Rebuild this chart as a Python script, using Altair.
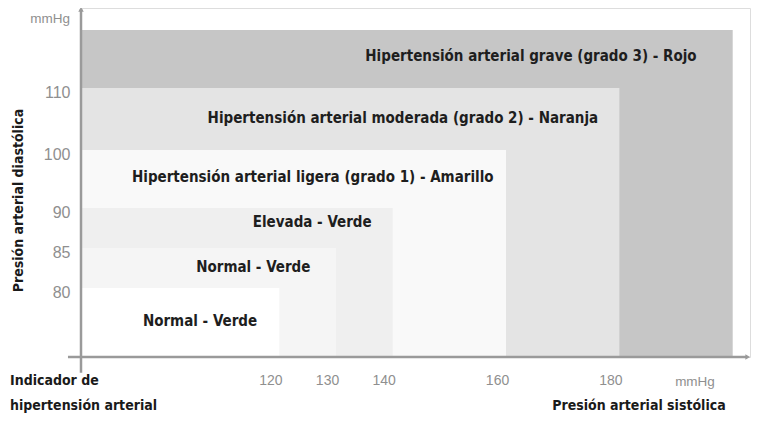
import altair as alt
import pandas as pd

# Nested zones: systolic upper limit, diastolic upper limit, label, fill
sys_limits = [200, 180, 160, 140, 130, 120]
dia_limits = [120, 110, 100, 90, 85, 80]
zone_labels = [
    "Hipertensión arterial grave (grado 3) - Rojo",
    "Hipertensión arterial moderada (grado 2) - Naranja",
    "Hipertensión arterial ligera (grado 1) - Amarillo",
    "Elevada - Verde",
    "Normal - Verde",
    "Normal - Verde",
]
zone_fill = ["#c6c6c6", "#e4e4e4", "#f9f9f9", "#efefef", "#f5f5f5", "#ffffff"]
label_sys = [164.4, 141.8, 125.9, 125.8, 115.4, 106.0]
label_dia = [115.5, 105.2, 95.3, 88.3, 82.6, 75.2]

x_ticks = [120, 130, 140, 160, 180]
y_ticks = [80, 85, 90, 100, 110]

W, H = 669, 349
X_MIN = 85
X_MAX = X_MIN + W / 5.667
Y_MIN = 70

zones = pd.DataFrame({
    "x0": [X_MIN] * len(sys_limits), "x1": sys_limits,
    "y0": [Y_MIN] * len(dia_limits), "y1": dia_limits,
    "fill": zone_fill, "order": list(range(len(sys_limits))),
})
labels = pd.DataFrame({"x": label_sys, "y": label_dia, "text": zone_labels})

xscale = alt.Scale(domain=[X_MIN, X_MAX], range=[0, W], nice=False, zero=False)
yscale = alt.Scale(domain=[70, 80, 85, 90, 100, 110, 120, 125],
                   range=[349, 280, 240, 200, 142, 80, 22, 0], nice=False, zero=False)

FONT_B = "'DejaVu Sans Condensed', 'DejaVu Sans', sans-serif"
TICK_FONT = "Liberation Sans"

rects = alt.Chart(zones).mark_rect().encode(
    x=alt.X("x0:Q", scale=xscale, axis=alt.Axis(
        values=x_ticks, domain=False, ticks=False, grid=False, labelFont=TICK_FONT,
        labelFontSize=14, labelColor="#8f8f8f", labelOffset=-9, labelPadding=16,
        title=None)),
    x2="x1:Q",
    y=alt.Y("y0:Q", scale=yscale, axis=alt.Axis(
        values=y_ticks, domain=False, ticks=False, grid=False, labelFont=TICK_FONT,
        labelFontSize=16, labelColor="#8f8f8f", labelOffset=4, labelPadding=11,
        title="Presión arterial diastólica", titleFont=FONT_B, titleFontSize=14,
        titleColor="#1a1a1a", titleFontWeight="bold", titleX=-56, titleY=192)),
    y2="y1:Q",
    color=alt.Color("fill:N", scale=None),
    order="order:Q",
)

texts = alt.Chart(labels).mark_text(
    font=FONT_B, fontSize=15, fontWeight="bold", color="#1e1e1e"
).encode(x=alt.X("x:Q", scale=xscale), y=alt.Y("y:Q", scale=yscale), text="text:N")

axis_color = "#9a9a9a"
one = pd.DataFrame({"a": [0]})
yaxis_line = alt.Chart(one).mark_rule(
    color=axis_color, strokeWidth=2.5, clip=False
).encode(x=alt.X("xv:Q", scale=xscale),
         y=alt.Y("y0:Q", scale=yscale), y2="y1:Q").transform_calculate(
    xv=str(X_MIN), y0="67.7", y1="124.7")
xaxis_line = alt.Chart(one).mark_rule(
    color=axis_color, strokeWidth=2.5, clip=False
).encode(x=alt.X("x0:Q", scale=xscale), x2="x1:Q",
         y=alt.Y("yv:Q", scale=yscale)).transform_calculate(
    x0="82.7", x1=str(X_MAX - 0.5), yv=str(Y_MIN))

arrow_up = alt.Chart(one).mark_point(
    shape="triangle-up", filled=True, color=axis_color, size=30, opacity=1, clip=False
).encode(x=alt.X("xv:Q", scale=xscale), y=alt.Y("yv:Q", scale=yscale)).transform_calculate(
    xv=str(X_MIN), yv="124.7")
arrow_right = alt.Chart(one).mark_point(
    shape="triangle-right", filled=True, color=axis_color, size=30, opacity=1, clip=False
).encode(x=alt.X("xv:Q", scale=xscale), y=alt.Y("yv:Q", scale=yscale)).transform_calculate(
    xv=str(X_MAX - 0.4), yv=str(Y_MIN))

unit_df = pd.DataFrame({"t": ["mmHg"]})
y_unit = alt.Chart(unit_df).mark_text(
    font=TICK_FONT, fontSize=13.5, color="#8f8f8f", align="right", baseline="middle"
).encode(text="t:N", x=alt.value(-11), y=alt.value(11))
x_unit = alt.Chart(unit_df).mark_text(
    font=TICK_FONT, fontSize=13.5, color="#8f8f8f", align="center", baseline="middle"
).encode(text="t:N", x=alt.value(614), y=alt.value(374))

foot_df = pd.DataFrame({"t": [["Indicador de", "hipertensión arterial"]]})
left_foot = alt.Chart(foot_df).mark_text(
    font=FONT_B, fontSize=14, fontWeight="bold", color="#1a1a1a", align="left",
    baseline="middle", lineHeight=25
).encode(text="t", x=alt.value(-71), y=alt.value(373))
right_df = pd.DataFrame({"t": ["Presión arterial sistólica"]})
right_foot = alt.Chart(right_df).mark_text(
    font=FONT_B, fontSize=14, fontWeight="bold", color="#1a1a1a", align="center",
    baseline="middle"
).encode(text="t:N", x=alt.value(558), y=alt.value(398))

chart = alt.layer(
    rects, texts, yaxis_line, xaxis_line, arrow_up, arrow_right,
    y_unit, x_unit, left_foot, right_foot
).properties(
    width=W, height=H,
    autosize=alt.AutoSizeParams(type="none"),
    padding={"left": 73, "top": 0, "right": 2, "bottom": 58},
).configure_view(stroke=None).configure(background="white")

chart.save("out.html", embed_options={"renderer": "svg", "actions": False})
